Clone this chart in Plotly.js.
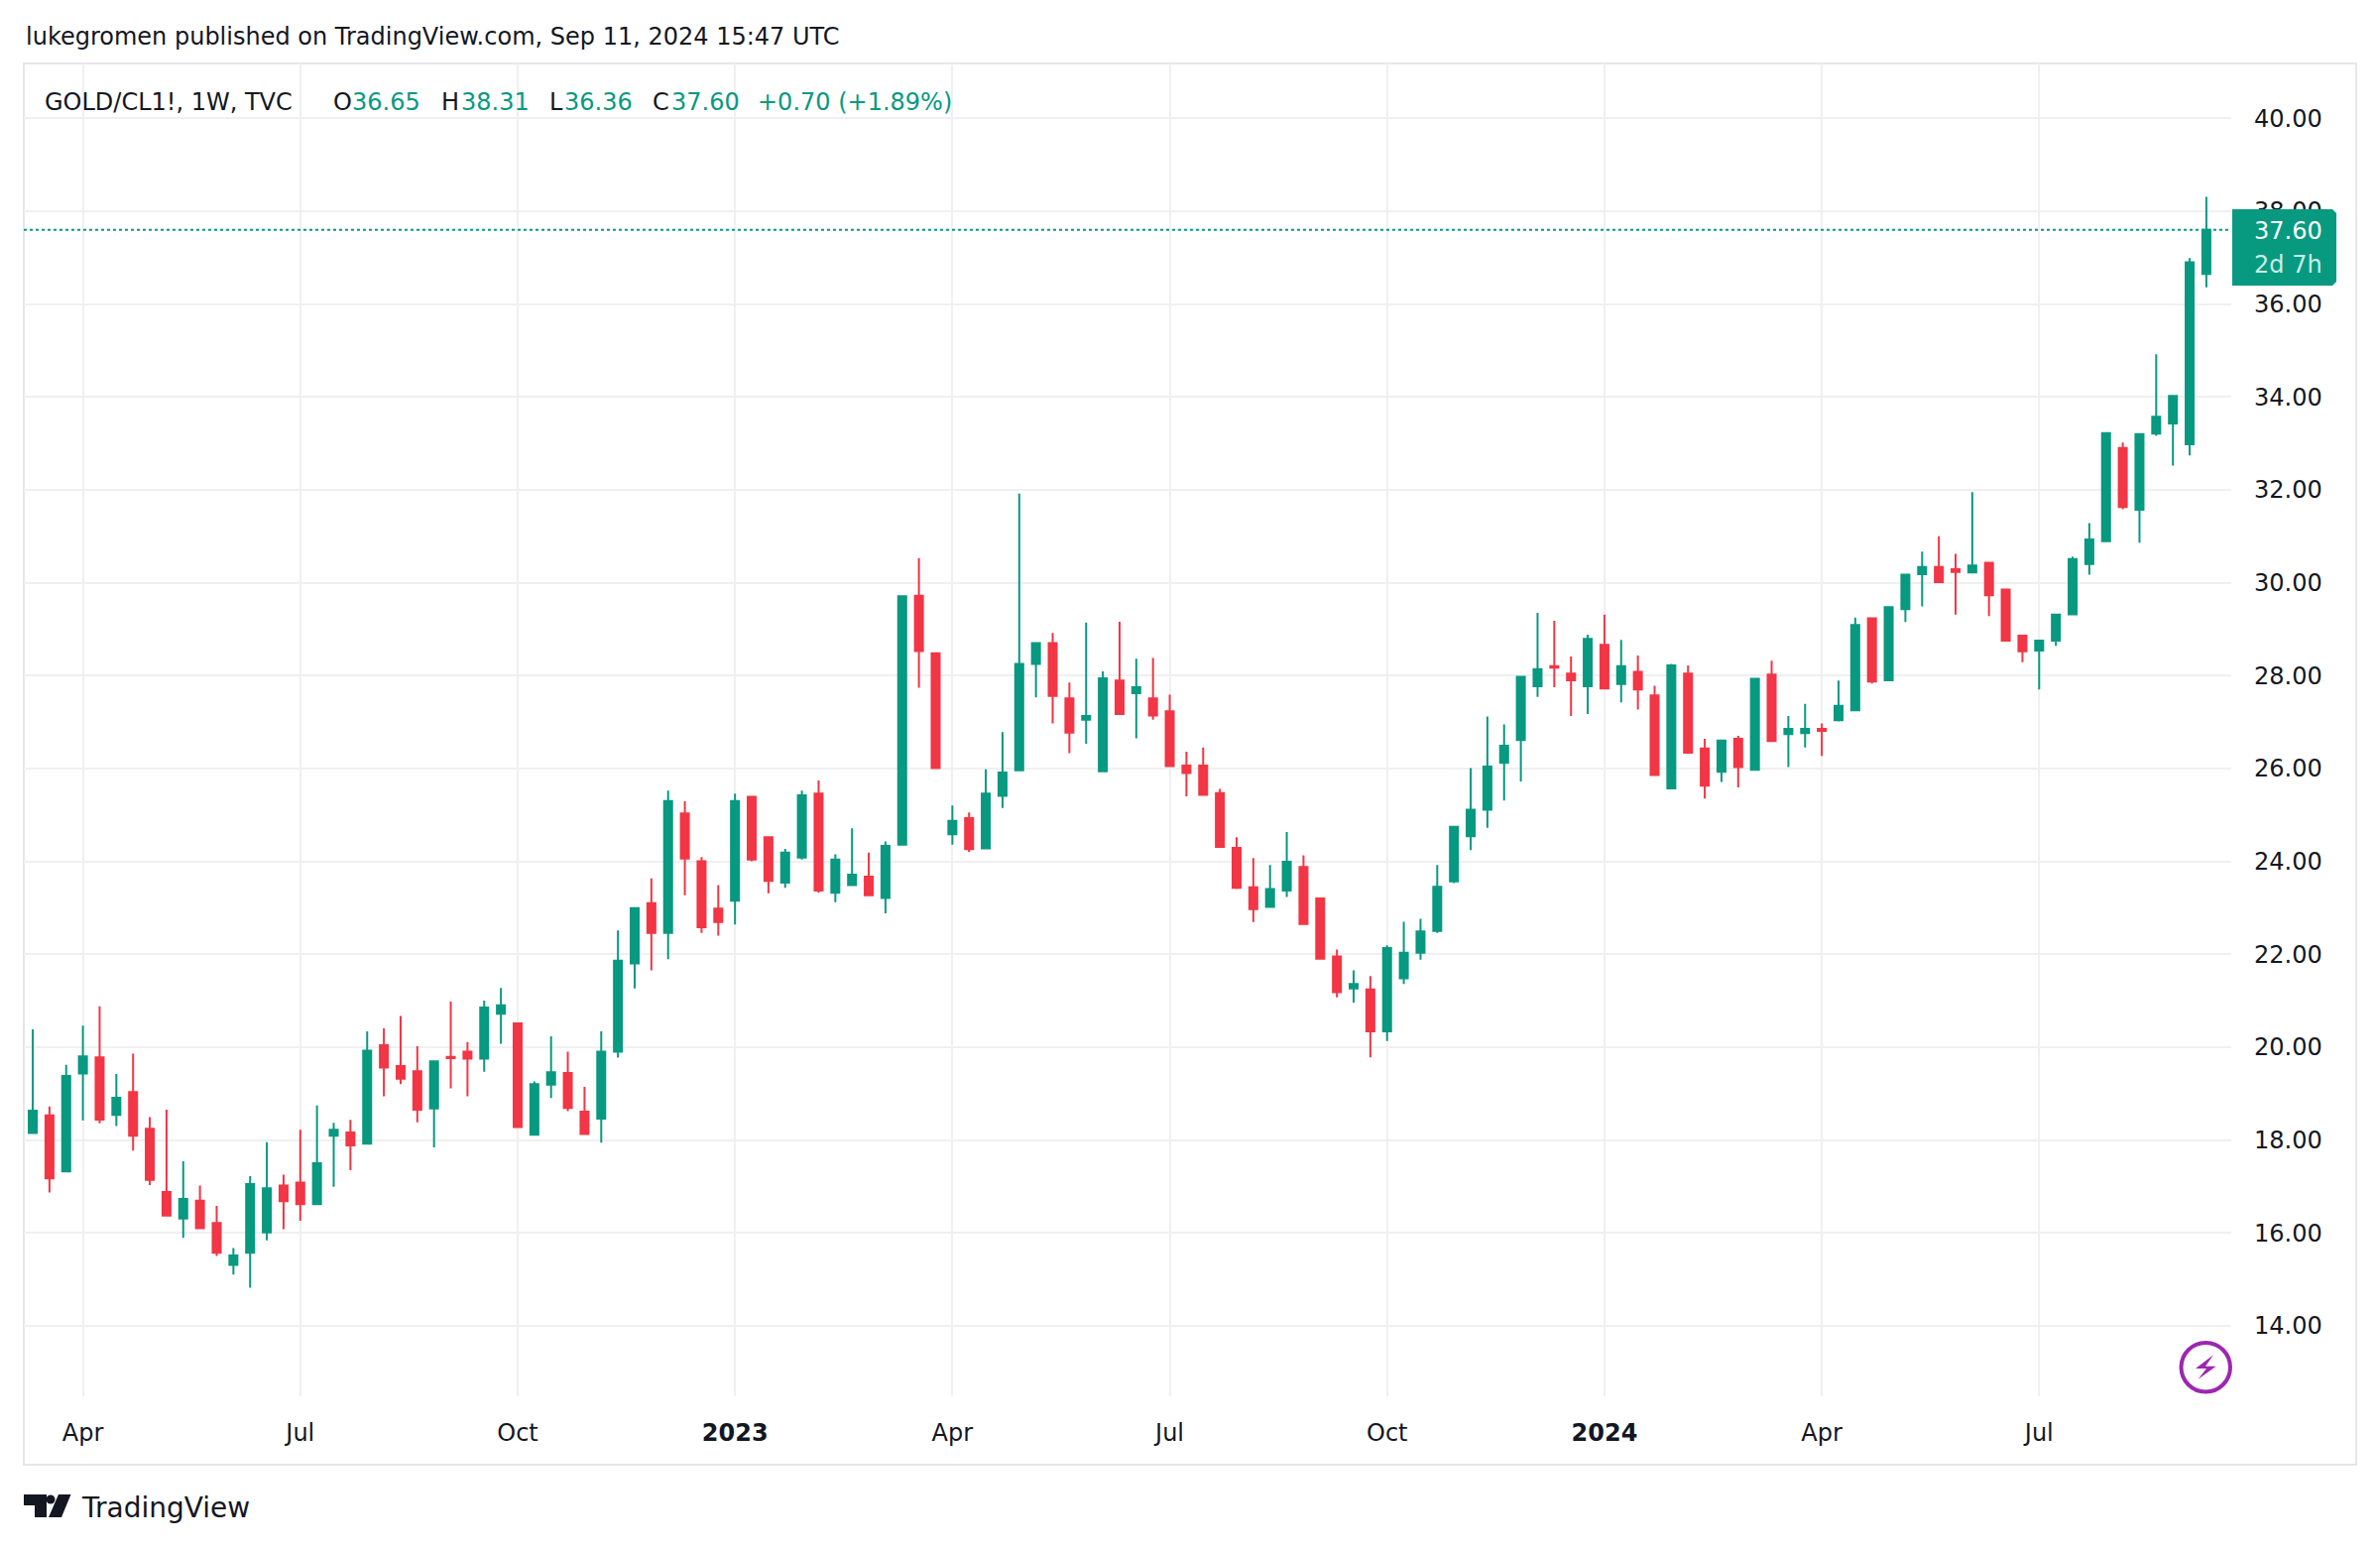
<!DOCTYPE html>
<html>
<head>
<meta charset="utf-8">
<script src="https://cdn.plot.ly/plotly-3.0.1.min.js"></script>
<style>html,body{margin:0;padding:0;background:#fff}</style>
</head>
<body>
<div id="chart" style="width:2400px;height:1562px"></div>
<script>
const dates = [
'2022-03-14','2022-03-21','2022-03-28','2022-04-04','2022-04-11','2022-04-18','2022-04-25','2022-05-02','2022-05-09','2022-05-16','2022-05-23','2022-05-30','2022-06-06','2022-06-13','2022-06-20','2022-06-27','2022-07-04','2022-07-11','2022-07-18','2022-07-25','2022-08-01','2022-08-08','2022-08-15','2022-08-22','2022-08-29','2022-09-05','2022-09-12','2022-09-19','2022-09-26','2022-10-03','2022-10-10','2022-10-17','2022-10-24','2022-10-31','2022-11-07','2022-11-14','2022-11-21','2022-11-28','2022-12-05','2022-12-12','2022-12-19','2022-12-26',
'2023-01-02','2023-01-09','2023-01-16','2023-01-23','2023-01-30','2023-02-06','2023-02-13','2023-02-20','2023-02-27','2023-03-06','2023-03-13','2023-03-20','2023-03-27','2023-04-03','2023-04-10','2023-04-17','2023-04-24','2023-05-01','2023-05-08','2023-05-15','2023-05-22','2023-05-29','2023-06-05','2023-06-12','2023-06-19','2023-06-26','2023-07-03','2023-07-10','2023-07-17','2023-07-24','2023-07-31','2023-08-07','2023-08-14','2023-08-21','2023-08-28','2023-09-04','2023-09-11','2023-09-18','2023-09-25','2023-10-02','2023-10-09','2023-10-16','2023-10-23','2023-10-30','2023-11-06','2023-11-13','2023-11-20','2023-11-27','2023-12-04','2023-12-11','2023-12-18','2023-12-25',
'2024-01-01','2024-01-08','2024-01-15','2024-01-22','2024-01-29','2024-02-05','2024-02-12','2024-02-19','2024-02-26','2024-03-04','2024-03-11','2024-03-18','2024-03-25','2024-04-01','2024-04-08','2024-04-15','2024-04-22','2024-04-29','2024-05-06','2024-05-13','2024-05-20','2024-05-27','2024-06-03','2024-06-10','2024-06-17','2024-06-24','2024-07-01','2024-07-08','2024-07-15','2024-07-22','2024-07-29','2024-08-05','2024-08-12','2024-08-19','2024-08-26','2024-09-02','2024-09-09'];

const opens = [
18.15,18.53,17.32,19.43,19.78,18.54,19.03,18.24,16.88,16.31,
16.69,16.21,15.31,15.57,16.01,17.02,17.08,16.62,18.09,18.16,
17.92,20.04,19.59,19.48,18.68,19.79,19.90,19.75,20.72,20.51,
18.11,19.19,19.44,18.61,18.46,19.90,21.80,23.10,22.46,25.03,
24.00,22.98,23.15,25.39,24.52,23.54,24.08,25.46,23.32,23.49,
23.67,23.21,24.36,29.72,28.48,24.58,24.93,24.28,25.41,25.96,
28.25,28.70,27.51,27.05,25.94,27.89,27.62,27.51,27.23,26.06,
26.06,25.47,24.29,23.44,23.02,23.37,23.88,23.20,21.95,21.26,
21.24,20.34,21.48,22.03,22.50,23.57,24.54,25.11,26.12,26.61,
27.77,28.20,28.04,27.77,28.66,27.82,28.08,27.57,25.57,28.04,
26.43,25.93,26.64,25.97,28.02,26.74,26.76,26.85,27.04,27.25,
29.23,27.90,29.43,30.18,30.34,30.29,30.22,30.43,29.85,28.86,
28.54,28.75,29.32,30.40,30.89,32.90,31.57,33.21,33.43,32.98,36.65];
const highs = [
20.38,18.72,19.62,20.46,20.88,19.42,19.86,18.49,18.65,17.54,
17.02,16.58,15.67,17.22,17.95,17.25,18.22,18.74,18.37,18.43,
20.34,20.40,20.67,20.02,19.69,20.98,20.11,21.00,21.27,20.53,
19.26,20.23,19.90,19.14,20.34,22.51,23.00,23.63,25.52,25.29,
24.09,23.49,25.46,25.39,24.52,24.27,25.52,25.74,24.15,24.71,
24.19,24.43,29.71,30.53,28.48,25.20,25.05,25.98,26.78,31.92,
28.70,28.92,27.85,29.14,28.09,29.16,28.36,28.38,27.59,26.36,
26.45,25.56,24.52,24.07,23.92,24.63,24.13,23.20,22.10,21.65,
21.53,22.19,22.70,22.76,23.92,24.76,26.01,27.12,26.95,27.97,
29.35,29.18,28.41,28.88,29.31,28.77,28.43,27.78,28.25,28.22,
26.64,26.60,26.70,27.93,28.32,27.13,27.39,26.97,27.89,29.25,
29.23,29.47,30.17,30.67,31.00,30.62,31.95,30.43,29.85,28.87,
28.75,29.31,30.56,31.28,33.22,33.02,33.20,34.92,34.02,36.99,38.31];
const lows = [
18.15,16.87,17.32,18.42,18.36,18.30,17.77,17.03,16.37,15.89,
16.10,15.50,15.10,14.82,15.84,16.08,16.26,16.62,16.99,17.35,
17.92,18.94,19.20,18.38,17.84,19.11,18.94,19.47,20.07,18.28,
18.11,18.90,18.62,18.13,17.94,19.77,21.26,21.65,21.89,23.27,
22.46,22.40,22.64,24.00,23.31,23.43,24.04,23.32,23.12,23.49,
23.26,22.88,24.36,27.74,26.01,24.36,24.20,24.28,25.15,25.96,
27.53,26.97,26.33,26.53,25.94,27.17,26.65,27.05,26.05,25.40,
25.43,24.29,23.40,22.69,23.02,23.23,22.65,21.90,21.07,20.96,
19.78,20.13,21.36,21.88,22.46,23.53,24.24,24.72,25.31,25.72,
27.54,27.75,27.13,27.17,27.72,27.42,27.27,25.86,25.57,26.34,
25.35,25.71,25.59,25.97,26.59,26.03,26.45,26.27,27.01,27.25,
27.83,27.90,29.15,29.49,30.01,29.31,30.22,29.28,28.75,28.29,
27.70,28.64,29.32,30.17,30.89,31.58,30.86,33.16,32.52,32.74,36.36];
const closes = [
18.63,17.17,19.38,19.80,18.44,18.91,18.09,17.14,16.37,16.73,
16.10,15.57,15.51,17.05,16.96,16.68,16.62,17.50,18.22,17.88,
19.92,19.56,19.32,18.65,19.69,19.76,19.75,20.85,20.90,18.28,
19.20,19.46,18.69,18.13,19.90,21.86,22.99,22.46,25.30,24.06,
22.58,22.69,25.30,24.04,23.58,24.19,25.42,23.37,24.04,23.71,
23.27,24.33,29.71,28.53,26.01,24.87,24.26,25.46,25.91,28.25,
28.70,27.56,26.77,27.13,27.94,27.17,27.75,27.14,26.05,25.90,
25.43,24.31,23.43,22.97,23.40,23.99,22.65,21.90,21.18,21.36,
20.34,22.13,22.03,22.49,23.45,24.74,25.11,26.04,26.49,27.97,
28.14,28.17,27.90,28.79,27.72,28.20,27.70,25.86,28.22,26.34,
25.63,26.60,26.03,27.93,26.59,26.85,26.85,26.81,27.35,29.09,
27.87,29.47,30.17,30.34,30.01,30.23,30.37,29.73,28.75,28.52,
28.75,29.31,30.51,30.93,33.22,31.63,33.20,33.57,34.02,36.90,37.60];

const xTickDates = ['2022-04-04','2022-07-04','2022-10-03','2023-01-02','2023-04-03','2023-07-03','2023-10-02','2024-01-01','2024-04-01','2024-07-01'];
const xTickLabels = ['Apr','Jul','Oct','<b>2023</b>','Apr','Jul','Oct','<b>2024</b>','Apr','Jul'];
const yTicks = [14,16,18,20,22,24,26,28,30,32,34,36,38,40];
const yTickLabels = ['14.00','16.00','18.00','20.00','22.00','24.00','26.00','28.00','30.00','32.00','34.00','36.00','38.00','40.00'];

const UP='#089981', DOWN='#F23645', INK='#131722', GRID='#f0f0f2', EDGE='#e6e7ea';
const FONT='"DejaVu Sans", sans-serif';
const L=24,R=2250,T=64,B=1408;
const px=x=>(x-L)/(R-L), py=y=>(B-y)/(B-T);
const path=pts=>'M'+pts.map(p=>px(p[0])+','+py(p[1])).join('L')+'Z';
const pshape=(pts,fill)=>({type:'path',xref:'paper',yref:'paper',path:path(pts),fillcolor:fill,line:{width:0},layer:'above'});
const txt=(x,y,text,color,size,extra)=>Object.assign({xref:'paper',yref:'paper',x:px(x),y:py(y),xanchor:'left',yanchor:'middle',
  text:text,showarrow:false,font:{family:FONT,size:size,color:color},borderpad:0},extra||{});

const lastClose=closes[closes.length-1];
const shapes=[
 {type:'rect',xref:'paper',yref:'paper',x0:px(24),x1:px(2376),y0:py(64),y1:py(1477),line:{color:EDGE,width:2},fillcolor:'rgba(0,0,0,0)',layer:'below'},
 {type:'line',xref:'paper',yref:'y',x0:0,x1:1,y0:lastClose,y1:lastClose,line:{color:UP,width:2,dash:'dot'},layer:'above'},
 pshape([[2251,211],[2352,211],[2356,215],[2356,284],[2352,288],[2251,288]],UP),
 {type:'circle',xref:'paper',yref:'paper',x0:px(2199.5),x1:px(2249),y0:py(1403.5),y1:py(1354),line:{color:'#9c27b0',width:4},fillcolor:'#ffffff',layer:'above'},
 pshape([[2232,1366.3],[2214,1380],[2225,1380],[2216.7,1390.7],[2234.7,1377.7],[2224,1377.7]],'#9c27b0'),
 pshape([[24,1507],[47,1507],[47,1530],[35,1530],[35,1518],[24,1518]],INK),
 {type:'circle',xref:'paper',yref:'paper',x0:px(46.5),x1:px(55.5),y0:py(1516.5),y1:py(1507.5),line:{width:0},fillcolor:INK,layer:'above'},
 pshape([[59,1507],[71.5,1507],[62,1530],[49,1530]],INK)
];
const annotations=[
 txt(25,37,'lukegromen published on TradingView.com, Sep 11, 2024 15:47 UTC',INK,24),
 txt(44,103,'GOLD/CL1!, 1W, TVC',INK,24),
 txt(335,103,'O',INK,24), txt(354,103,'36.65',UP,24),
 txt(444,103,'H',INK,24), txt(464,103,'38.31',UP,24),
 txt(553,103,'L',INK,24), txt(568,103,'36.36',UP,24),
 txt(657,103,'C',INK,24), txt(676,103,'37.60',UP,24),
 txt(763,103,'+0.70 (+1.89%)',UP,24),
 txt(2272,233,'37.60','#ffffff',24),
 txt(2272,267,'2d 7h','#c9eee5',24),
 txt(81,1520,'TradingView',INK,28)
];

const trace={type:'candlestick',x:dates,open:opens,high:highs,low:lows,close:closes,whiskerwidth:0,
 increasing:{line:{color:UP,width:2},fillcolor:UP},
 decreasing:{line:{color:DOWN,width:2},fillcolor:DOWN},hoverinfo:'skip'};

const layout={width:2400,height:1562,margin:{l:L,r:2400-R,t:T,b:1562-B,pad:0},paper_bgcolor:'#fff',plot_bgcolor:'#fff',
 showlegend:false,boxgap:0.32,dragmode:false,
 xaxis:{type:'date',range:['2022-03-10 06:00','2024-09-19 10:00'],tickmode:'array',tickvals:xTickDates,ticktext:xTickLabels,
   showgrid:true,gridcolor:GRID,gridwidth:2,zeroline:false,showline:false,ticks:'',ticklabelstandoff:20,
   rangeslider:{visible:false},tickfont:{family:FONT,size:24,color:INK},tickangle:0},
 yaxis:{side:'right',range:[12.48,41.18],tickmode:'array',tickvals:yTicks,ticktext:yTickLabels,
   showgrid:true,gridcolor:GRID,gridwidth:2,zeroline:false,showline:false,ticks:'',ticklabelstandoff:22,
   tickfont:{family:FONT,size:24,color:INK}},
 shapes:shapes,annotations:annotations};
Plotly.newPlot('chart',[trace],layout,{displayModeBar:false,staticPlot:true});
</script>
</body>
</html>
